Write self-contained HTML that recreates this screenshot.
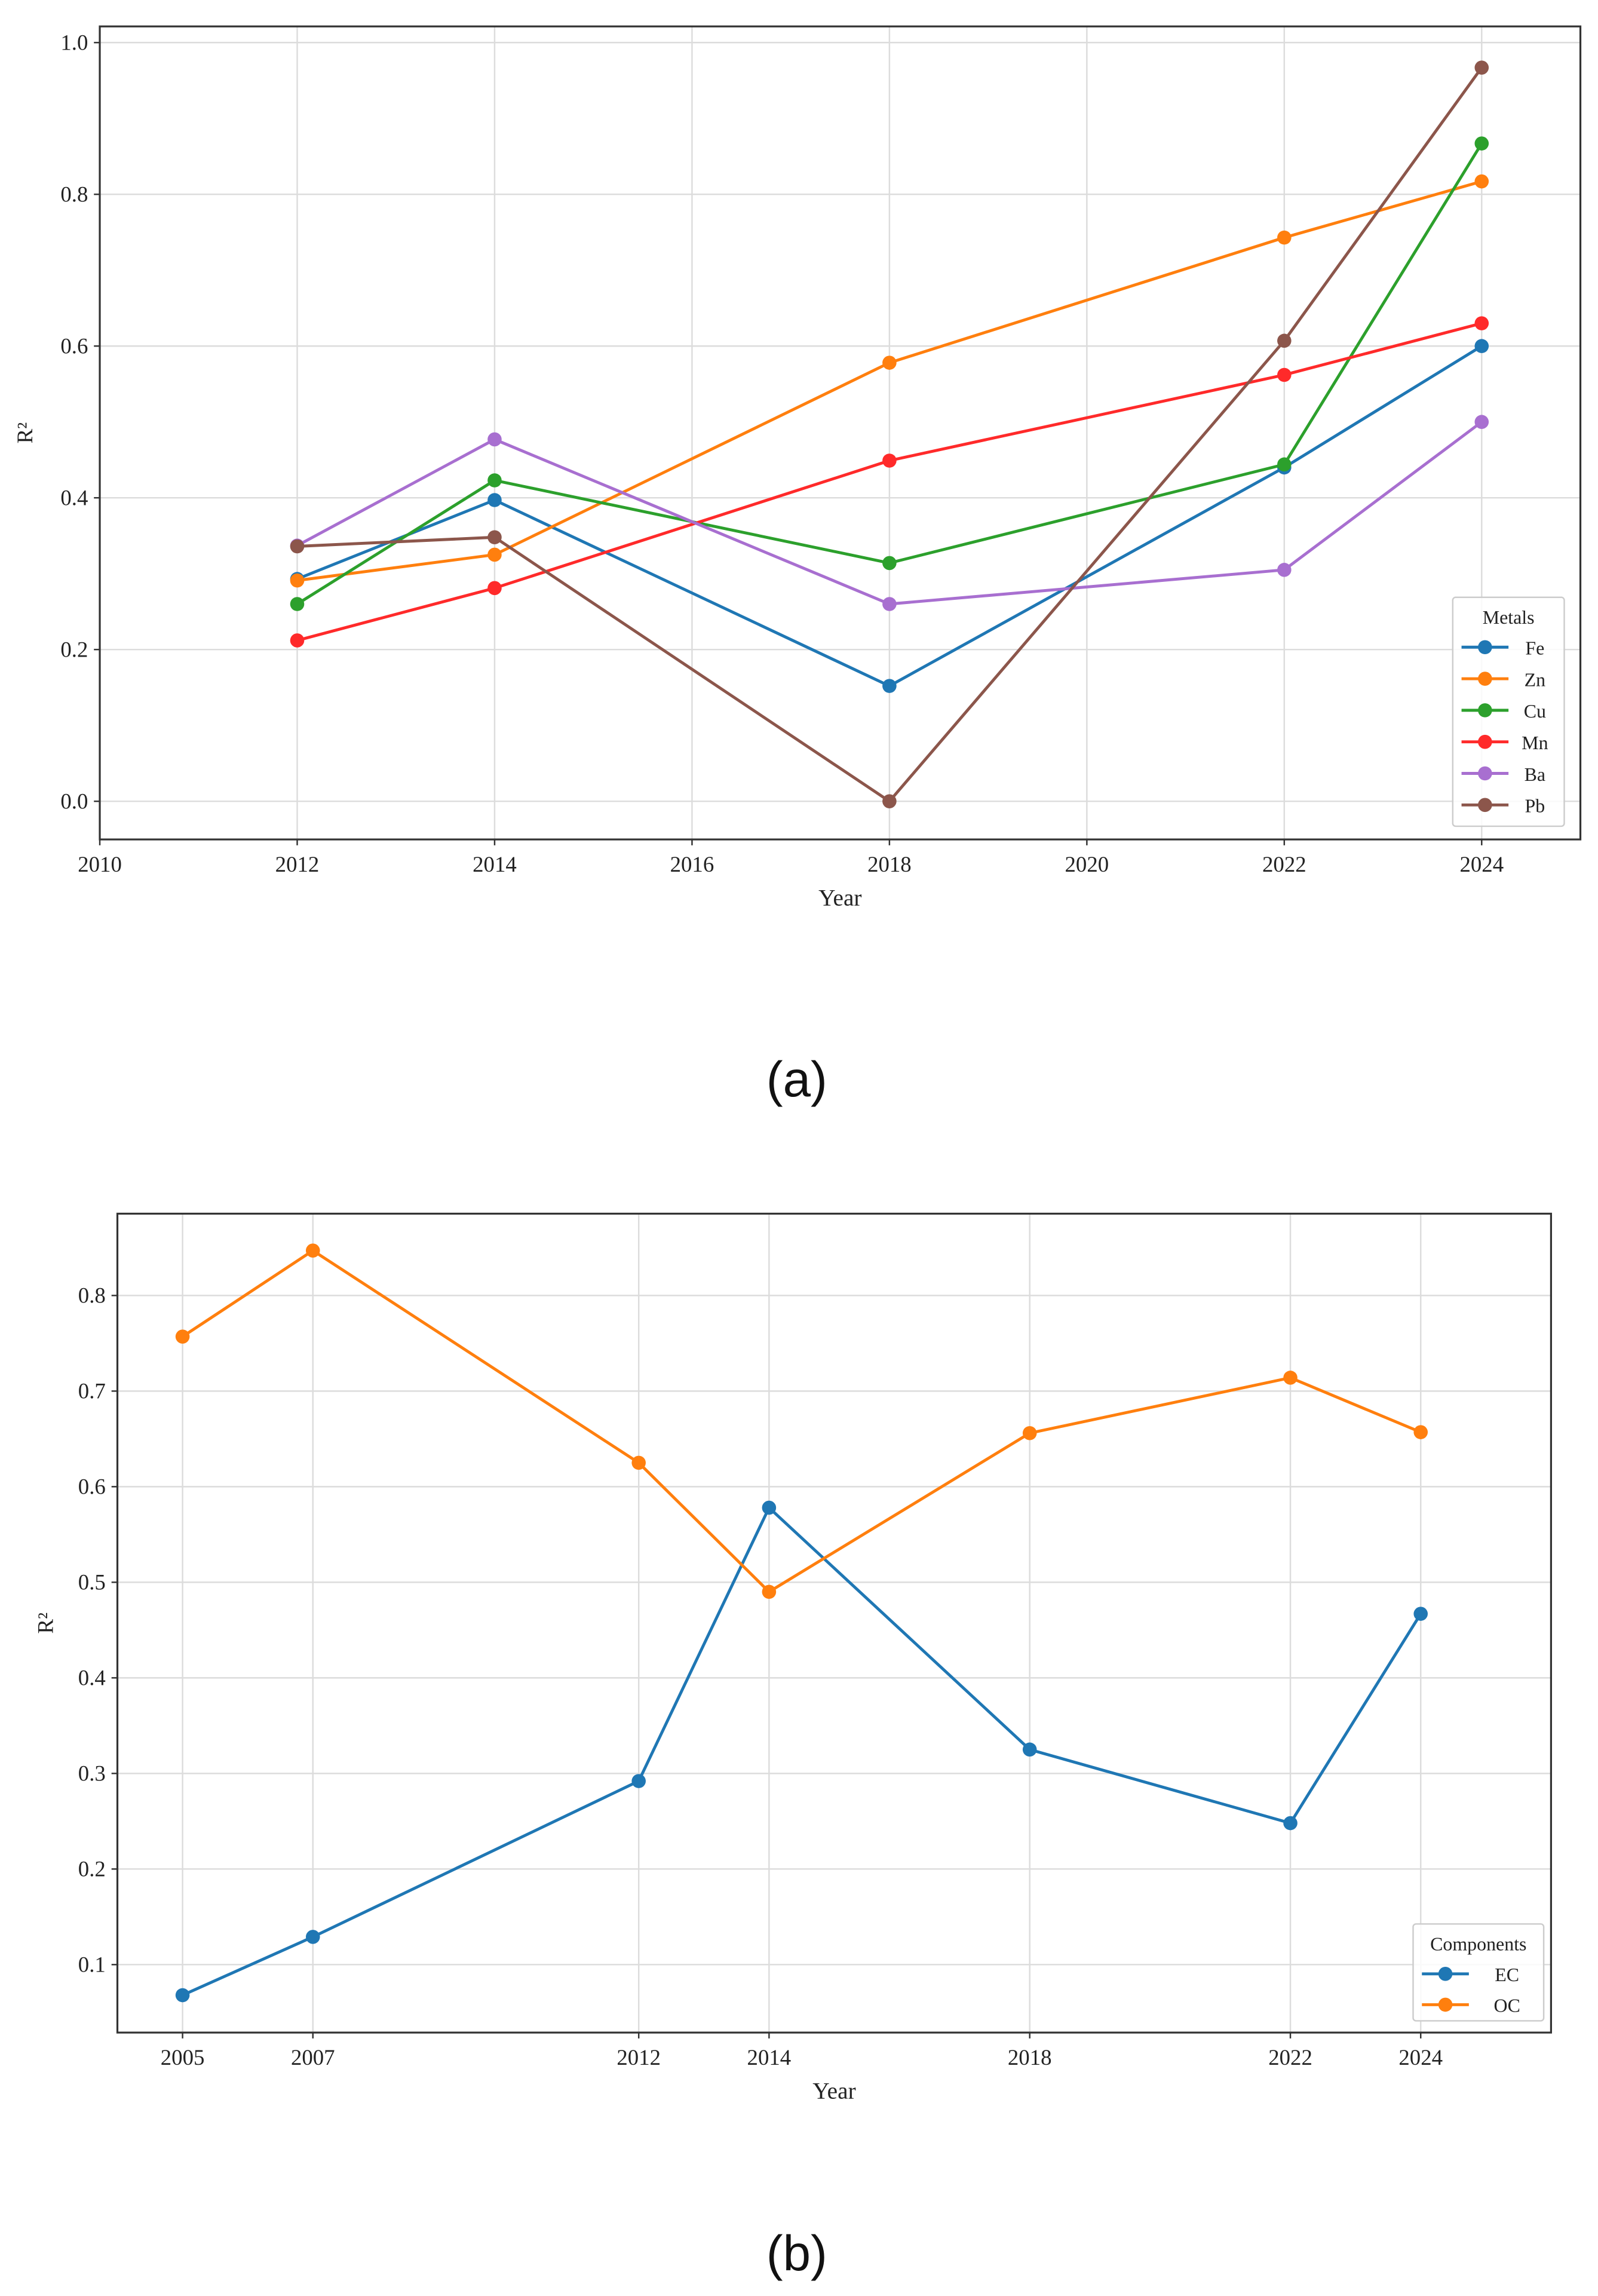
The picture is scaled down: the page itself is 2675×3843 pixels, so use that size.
<!DOCTYPE html>
<html><head><meta charset="utf-8"><style>
html,body{margin:0;padding:0;background:#fff;}
svg{display:block;font-family:"Liberation Serif","DejaVu Serif",serif;}
</style></head><body>
<svg id="fig" width="2675" height="3843" viewBox="0 0 1089 1564.5" xmlns="http://www.w3.org/2000/svg"></svg>
<script>
// ---- chart (a) data ----
const yearsA = [2012, 2014, 2018, 2022, 2024];
const metalNames = ["Fe", "Zn", "Cu", "Mn", "Ba", "Pb"];
const feVals = [0.293, 0.397, 0.152, 0.440, 0.600];
const znVals = [0.291, 0.325, 0.578, 0.743, 0.817];
const cuVals = [0.260, 0.423, 0.314, 0.444, 0.867];
const mnVals = [0.212, 0.281, 0.449, 0.562, 0.630];
const baVals = [0.337, 0.477, 0.260, 0.305, 0.500];
const pbVals = [0.336, 0.348, 0.000, 0.607, 0.967];
const xTicksA = [2010, 2012, 2014, 2016, 2018, 2020, 2022, 2024];
const yTicksA = [0.0, 0.2, 0.4, 0.6, 0.8, 1.0];
// ---- chart (b) data ----
const yearsB = [2005, 2007, 2012, 2014, 2018, 2022, 2024];
const compNames = ["EC", "OC"];
const ecVals = [0.068, 0.129, 0.292, 0.578, 0.325, 0.248, 0.467];
const ocVals = [0.757, 0.847, 0.625, 0.490, 0.656, 0.714, 0.657];
const xTicksB = [2005, 2007, 2012, 2014, 2018, 2022, 2024];
const yTicksB = [0.1, 0.2, 0.3, 0.4, 0.5, 0.6, 0.7, 0.8];

const NS = "http://www.w3.org/2000/svg";
const fig = document.getElementById("fig");
function mk(tag, attrs, parent, text) {
  const e = document.createElementNS(NS, tag);
  for (const k in attrs) e.setAttribute(k, attrs[k]);
  if (text !== undefined) e.textContent = text;
  (parent || fig).appendChild(e);
  return e;
}
const colors = {Fe:"#1f77b4",Zn:"#ff7f0e",Cu:"#2ca02c",Mn:"#ff2a2a",Ba:"#a86fd0",Pb:"#8c564b",EC:"#1f77b4",OC:"#ff7f0e"};

function drawChart(cfg) {
  const g = mk("g", {});
  
  
  const X = v => cfg.L + (v - cfg.xmin) / (cfg.xmax - cfg.xmin) * (cfg.R - cfg.L);
  const Y = v => cfg.B - (v - cfg.ymin) / (cfg.ymax - cfg.ymin) * (cfg.B - cfg.T);
  // grid
  cfg.xticks.forEach(t => {
    const l = mk("line", {x1:X(t),x2:X(t),y1:cfg.T,y2:cfg.B,stroke:"#dcdcdc","stroke-width":1}, g);
    
    
    const tk = mk("line", {x1:X(t),x2:X(t),y1:cfg.B,y2:cfg.B+4,stroke:"#333","stroke-width":1}, g);
    
    
    const tx = mk("text", {x:X(t),y:cfg.B+22,"text-anchor":"middle","font-size":15,fill:"#222"}, g, String(t));
    
    
  });
  cfg.yticks.forEach(t => {
    const l = mk("line", {x1:cfg.L,x2:cfg.R,y1:Y(t),y2:Y(t),stroke:"#dcdcdc","stroke-width":1}, g);
    
    
    const tk = mk("line", {x1:cfg.L-4,x2:cfg.L,y1:Y(t),y2:Y(t),stroke:"#333","stroke-width":1}, g);
    
    
    const tx = mk("text", {x:cfg.L-8,y:Y(t)+5,"text-anchor":"end","font-size":15,fill:"#222"}, g, t.toFixed(1));
    
    
  });
  // series
  cfg.series.forEach(s => {
    const sg = mk("g", {}, g);
    
    
    const pts = cfg.years.map((yr, i) => X(yr) + "," + Y(s.vals[i])).join(" ");
    const pl = mk("polyline", {points:pts,fill:"none",stroke:colors[s.name],"stroke-width":2,"stroke-linejoin":"round"}, sg);
    
    
    cfg.years.forEach((yr, i) => {
      const c = mk("circle", {cx:X(yr),cy:Y(s.vals[i]),r:4.8,fill:colors[s.name]}, sg);
      
      
    });
  });
  // frame
  const fr = mk("rect", {x:cfg.L,y:cfg.T,width:cfg.R-cfg.L,height:cfg.B-cfg.T,fill:"none",stroke:"#333","stroke-width":1.3}, g);
  
  
  const xt = mk("text", {x:(cfg.L+cfg.R)/2,y:cfg.B+45,"text-anchor":"middle","font-size":16,fill:"#222"}, g, "Year");
  
  
  const yt = mk("text", {x:0,y:0,"text-anchor":"middle","font-size":15,fill:"#222",transform:"translate("+cfg.ylx+","+(cfg.T+cfg.B)/2+") rotate(-90)"}, g, "R²");
  
  
  // legend
  const lg = mk("g", {}, g);
  
  
  const lb = cfg.legend;
  mk("rect", {x:lb.x,y:lb.y,width:lb.w,height:lb.h,rx:2,fill:"#fff","fill-opacity":0.85,stroke:"#ccc","stroke-width":1}, lg);
  const lt = mk("text", {x:lb.x+lb.w/2,y:lb.y+18,"text-anchor":"middle","font-size":13,fill:"#222"}, lg, lb.title);
  
  
  cfg.series.forEach((s, i) => {
    const ey = lb.y + 34 + i * lb.step;
    const eg = mk("g", {}, lg);
    
    
    mk("line", {x1:lb.x+6,x2:lb.x+38,y1:ey,y2:ey,stroke:colors[s.name],"stroke-width":2}, eg);
    mk("circle", {cx:lb.x+22,cy:ey,r:4.8,fill:colors[s.name]}, eg);
    mk("text", {x:lb.x+lb.tx,y:ey+5,"text-anchor":"middle","font-size":13,fill:"#222"}, eg, s.name);
  });
}

drawChart({
  name:"chart-a-metals", L:68, R:1077, T:18, B:572,
  xmin:2010, xmax:2025, ymin:-0.0503, ymax:1.0213,
  xticks:xTicksA, yticks:yTicksA, years:yearsA, ylx:22,
  series:[{name:"Fe",vals:feVals},{name:"Zn",vals:znVals},{name:"Cu",vals:cuVals},{name:"Mn",vals:mnVals},{name:"Ba",vals:baVals},{name:"Pb",vals:pbVals}],
  legend:{x:990,y:407,w:76,h:156,title:"Metals",step:21.5,tx:56}
});
drawChart({
  name:"chart-b-components", L:80, R:1057, T:827, B:1385,
  xmin:2004, xmax:2026, ymin:0.0289, ymax:0.8856,
  xticks:xTicksB, yticks:yTicksB, years:yearsB, ylx:36,
  series:[{name:"EC",vals:ecVals},{name:"OC",vals:ocVals}],
  legend:{x:963,y:1311,w:89,h:66,title:"Components",step:21,tx:64}
});
const ca = mk("text", {x:543,y:747,"text-anchor":"middle","font-size":34,fill:"#111","font-family":"Liberation Sans, sans-serif"}, fig, "(a)");


const cb = mk("text", {x:543,y:1547,"text-anchor":"middle","font-size":34,fill:"#111","font-family":"Liberation Sans, sans-serif"}, fig, "(b)");


</script>
</body></html>
